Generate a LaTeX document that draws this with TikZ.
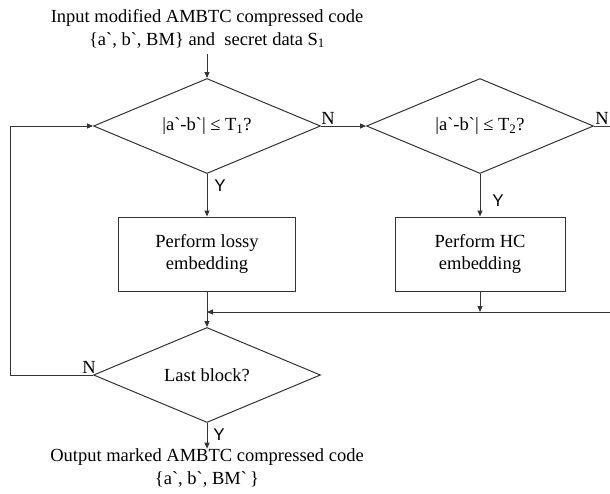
\documentclass[tikz,border=0pt]{standalone}
\usepackage{fontspec}
\setmainfont{Liberation Serif}
\newfontfamily\ysans{Liberation Sans}
\newfontfamily\gravefont{Liberation Serif}
\usetikzlibrary{shapes.geometric, arrows.meta, positioning, calc}
\newcommand{\pr}{{\gravefont\char"60}}
\tikzset{
  fcfont/.style={font=\fontsize{18.5}{22.5}\selectfont},
  fcblock/.style={rectangle, draw=black!80, line width=1pt,
                  minimum width=172pt, minimum height=74pt,
                  align=center, inner sep=0pt, fcfont},
  fcdec/.style={diamond, aspect=2.4, draw=black!80, line width=1pt,
                minimum width=227pt, minimum height=95pt,
                align=center, inner sep=0pt, fcfont},
  fctext/.style={align=center, inner sep=0pt, fcfont},
  fcno/.style={inner sep=0pt, fcfont},
  fcyes/.style={inner sep=0pt, font=\ysans\fontsize{17}{20}\selectfont},
  fcarrow/.style={-{Triangle[length=6pt, width=5pt]}, line width=1pt, black!80},
  fcline/.style={line width=1pt, black!75},
}

\begin{document}
\begin{tikzpicture}[x=1pt, y=-1pt]
  \useasboundingbox (0,0) rectangle (610,493);

  % Entrada e saida
  \node[fctext] (in) at (207,29)
    {Input modified AMBTC compressed code\\
     \{a\pr, b\pr, BM\} and~ secret data S\textsubscript{1}};
  \node[fctext] (out) at (207,468)
    {Output marked AMBTC compressed code\\
     \{a\pr, b\pr, BM\pr\,\}};

  % Decisoes
  \node[fcdec] (d1) at (207,126) {|a\pr-b\pr| ≤ T\textsubscript{1}?};
  \node[fcdec] (d2) at (480,126) {|a\pr-b\pr| ≤ T\textsubscript{2}?};
  \node[fcdec] (d3) at (207,375) {Last block?};

  % Blocos
  \node[fcblock, minimum width=177pt] (lossy) at (207,254)
    {Perform lossy\\embedding};
  \node[fcblock, minimum width=170pt] (hc) at (480,254)
    {Perform HC\\embedding};

  \coordinate (mrg) at (207,312);
  \coordinate (redge) at (610,312);
  \coordinate (nedge) at (610,126);

  % Conexoes
  \draw[fcarrow] ([yshift=-6pt]in.south) -- (d1.north);
  \draw[fcarrow] (d1.east) -- (d2.west);
  \draw[fcarrow] (d1.south) -- (lossy.north);
  \draw[fcarrow] (d2.south) -- (hc.north);
  \draw[fcline] (d2.east) -- (nedge);
  \draw[fcarrow] (lossy.south) -- (d3.north);
  \draw[fcarrow] (hc.south) -- (hc.south |- mrg);
  \draw[fcarrow] (redge) -- (mrg);
  \draw[fcarrow] (d3.west) -- ++(-83,0) |- (d1.west);
  \draw[fcarrow] (d3.south) -- (out.north);

  % Rotulos
  \node[fcno] (n1) at (328,118) {N};
  \node[fcno] (n2) at (602,118) {N};
  \node[fcno] (n3) at (89,367) {N};
  \node[fcyes] (y1) at (220,186) {Y};
  \node[fcyes] (y2) at (498,201) {Y};
  \node[fcyes] (y3) at (219,435) {Y};
\end{tikzpicture}
\end{document}
